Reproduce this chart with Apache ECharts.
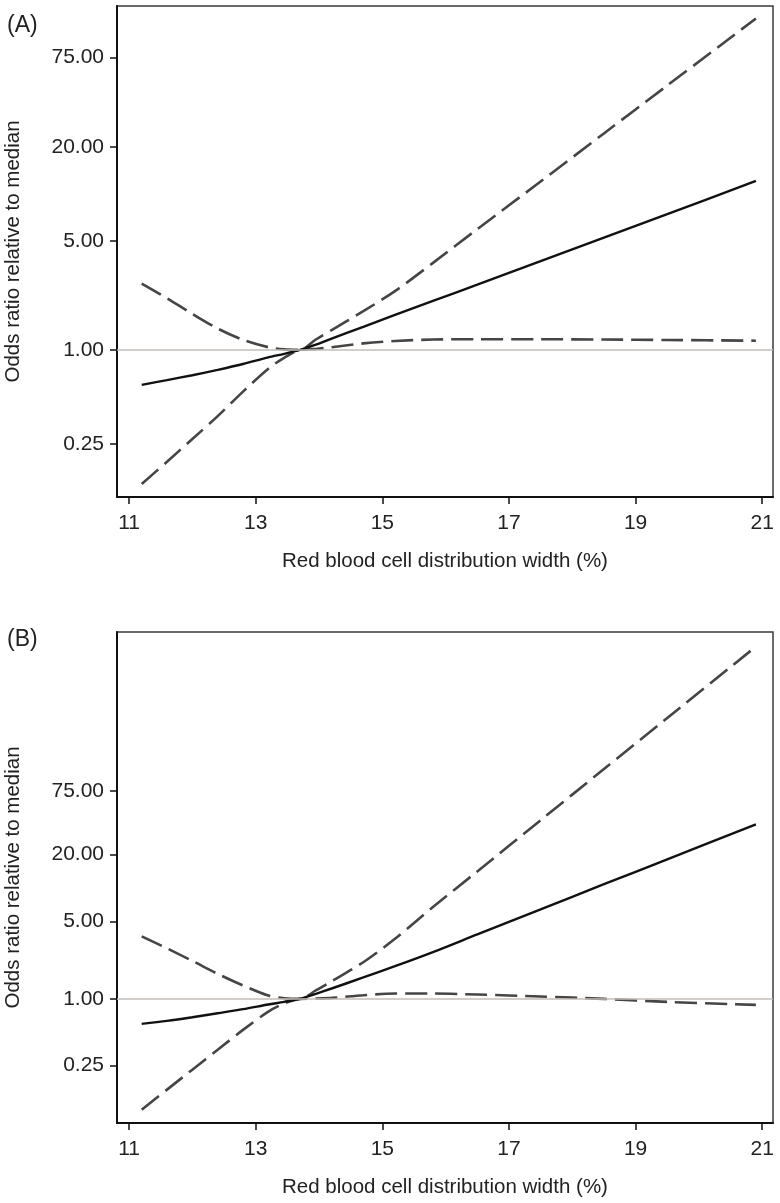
<!DOCTYPE html>
<html><head><meta charset="utf-8">
<script src="https://cdn.jsdelivr.net/npm/echarts@6/dist/echarts.min.js"></script>
<style>html,body{margin:0;padding:0;background:#fff}#c{width:780px;height:1203px}</style>
</head><body><div id="c"></div>
<script>
// Red blood cell distribution width (%)
const rdw = [11.2, 11.6, 12.0, 12.4, 12.8, 13.2, 13.45, 13.7, 13.95, 14.2, 14.7, 15.2, 15.8, 16.5, 17.5, 18.5, 19.5, 20.9];

// Panel A: odds ratio relative to median
const orA     = [0.597, 0.640, 0.688, 0.745, 0.812, 0.895, 0.943, 1.0, 1.079, 1.181, 1.404, 1.676, 2.06, 2.62, 3.71, 5.24, 7.41, 12.1];
const upperA  = [2.66, 2.14, 1.70, 1.37, 1.16, 1.04, 1.007, 1.0, 1.165, 1.34, 1.77, 2.38, 3.61, 5.94, 12.0, 24.4, 49.5, 133];
const lowerA  = [0.138, 0.192, 0.268, 0.376, 0.540, 0.758, 0.889, 1.0, 1.014, 1.04, 1.10, 1.14, 1.165, 1.17, 1.17, 1.165, 1.157, 1.145];

// Panel B: odds ratio relative to median
const orB     = [0.595, 0.633, 0.683, 0.742, 0.807, 0.889, 0.939, 1.0, 1.11, 1.24, 1.56, 1.97, 2.64, 3.81, 6.41, 10.8, 18.1, 37.5];
const upperB  = [3.66, 2.85, 2.20, 1.68, 1.32, 1.07, 1.014, 1.0, 1.19, 1.44, 2.14, 3.48, 6.73, 14.1, 40.8, 118, 340, 1500];
const lowerB  = [0.100, 0.152, 0.230, 0.348, 0.525, 0.768, 0.908, 1.0, 1.007, 1.021, 1.079, 1.117, 1.117, 1.094, 1.05, 1.0, 0.939, 0.883];

const xTicks = [11, 13, 15, 17, 19, 21];
const yTicks = [0.25, 1, 5, 20, 75];
const xTitle = 'Red blood cell distribution width (%)';
const yTitle = 'Odds ratio relative to median';
const panelLabels = ['(A)', '(B)'];

const FONT = '"Liberation Sans", Arial, Helvetica, sans-serif';
const TXT = '#222';

function pts(ys) { return rdw.map((x, i) => [x, ys[i]]); }

const grids = [
  {left: 117, right: 7, top: 6, height: 491},
  {left: 117, right: 7, top: 632, height: 491}
];
const yRanges = [[0.114, 160], [0.076, 2030]];

const xAxes = grids.map((g, i) => ({
  type: 'value', gridIndex: i, min: 10.81, max: 21.17,
  name: xTitle, nameLocation: 'middle', nameGap: 54,
  nameTextStyle: {fontFamily: FONT, fontSize: 20.5, color: TXT},
  axisLine: {show: true, onZero: false, lineStyle: {color: '#111', width: 2}},
  axisTick: {show: true, length: 7, lineStyle: {color: '#111', width: 1.5}, customValues: xTicks},
  axisLabel: {customValues: xTicks, fontFamily: FONT, fontSize: 21, color: TXT, margin: 16, formatter: v => String(Math.round(v))},
  splitLine: {show: false}
}));
const yAxes = grids.map((g, i) => ({
  type: 'log', logBase: 10, gridIndex: i, min: yRanges[i][0], max: yRanges[i][1],
  name: yTitle, nameLocation: 'middle', nameGap: 93, nameRotate: 90,
  nameTextStyle: {fontFamily: FONT, fontSize: 20.5, color: TXT},
  axisLine: {show: true, lineStyle: {color: '#111', width: 2}},
  axisTick: {show: true, length: 7, lineStyle: {color: '#111', width: 1.5}, customValues: yTicks},
  axisLabel: {customValues: yTicks, fontFamily: FONT, fontSize: 21, color: TXT, margin: 13, formatter: v => Number(v).toFixed(2)},
  splitLine: {show: false}
}));

const panels = [[orA, upperA, lowerA], [orB, upperB, lowerB]];
const series = [];
panels.forEach((p, i) => {
  series.push({
    type: 'line', xAxisIndex: i, yAxisIndex: i, data: [], z: 1, silent: true,
    markLine: {silent: true, symbol: ['none', 'none'], label: {show: false},
      lineStyle: {color: '#c2bebb', width: 1.5, type: 'solid'}, data: [{yAxis: 1}]}
  });
  series.push({
    type: 'line', xAxisIndex: i, yAxisIndex: i, data: pts(p[1]), z: 3, showSymbol: false, smooth: 0.3,
    lineStyle: {color: '#454545', width: 2.6, type: [22, 8]}
  });
  series.push({
    type: 'line', xAxisIndex: i, yAxisIndex: i, data: pts(p[2]), z: 3, showSymbol: false, smooth: 0.3,
    lineStyle: {color: '#454545', width: 2.6, type: [22, 8]}
  });
  series.push({
    type: 'line', xAxisIndex: i, yAxisIndex: i, data: pts(p[0]), z: 4, showSymbol: false, smooth: 0.3,
    lineStyle: {color: '#111', width: 2.4, type: 'solid'}
  });
});

const chart = echarts.init(document.getElementById('c'), null, {renderer: 'canvas'});
chart.setOption({
  animation: false,
  backgroundColor: '#fff',
  title: [
    {text: panelLabels[0], left: 2, top: 9, textStyle: {fontFamily: FONT, fontSize: 23, fontWeight: 'normal', color: TXT}},
    {text: panelLabels[1], left: 2, top: 623, textStyle: {fontFamily: FONT, fontSize: 23, fontWeight: 'normal', color: TXT}}
  ],
  grid: grids.map(g => Object.assign({show: true, containLabel: false, outerBoundsMode: 'none', borderColor: '#3a3a3a', borderWidth: 1.5, backgroundColor: 'transparent'}, g)),
  xAxis: xAxes,
  yAxis: yAxes,
  series: series
});
</script>
</body></html>
